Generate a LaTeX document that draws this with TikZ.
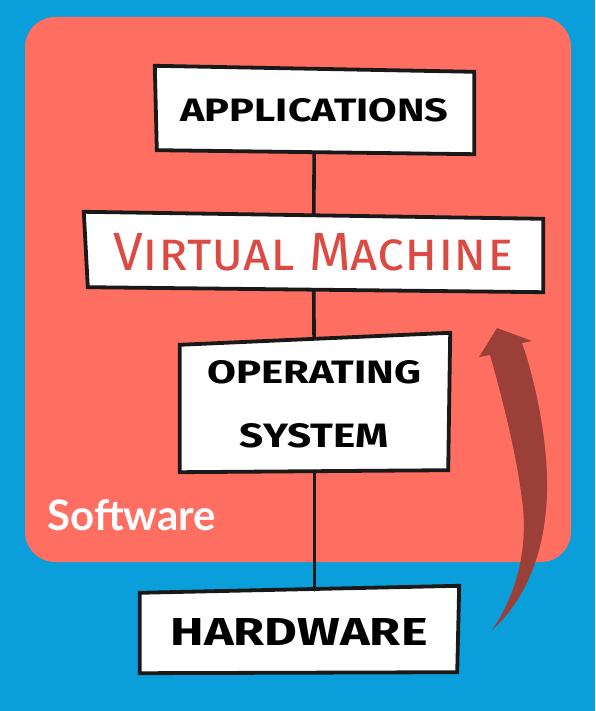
\documentclass[tikz,border=0pt]{standalone}
\usepackage{graphicx}
\usepackage{fontspec}
\usetikzlibrary{backgrounds}
\newfontfamily\handfont{Fira Sans}
\newfontfamily\handsc{Fira Sans}[Letters=SmallCaps]
\newfontfamily\labelfont{Lato}
\definecolor{skyblue}{HTML}{0A9FDA}
\definecolor{softred}{HTML}{FF6F61}
\definecolor{arrowred}{HTML}{9B4038}
\definecolor{vmred}{HTML}{DC4B43}
% hand lettering squeezed to a given width and cap height
\newcommand{\handword}[3]{\resizebox{#1}{#2}{#3}}

\begin{document}
\begin{tikzpicture}[x=1pt,y=-1pt,line cap=round,line join=round,
    layer/.style={inner sep=0pt,font=\handfont\bfseries},
    outline/.style={draw=black!90,line width=3.8pt,fill=white},
    link/.style={draw=black!90,line width=3.6pt}]
            \node[layer,minimum width=319pt,minimum height=83pt] (apps) at (314.5,110.5)
                {\handword{268pt}{23pt}{APPLICATIONS}};
            \node[layer,minimum width=459pt,minimum height=76pt] (vm) at (313.5,252)
                {\raisebox{-4pt}{\color{vmred}\handword{400pt}{37pt}{\handsc\mdseries Virtual Machine}}};
            \node[layer,minimum width=269pt,minimum height=133pt,align=center,
                font=\handfont\bfseries\fontsize{10}{64.5}\selectfont] (os) at (314.5,404.5)
                {\handword{214pt}{23pt}{OPERATING}\\\handword{149pt}{24pt}{SYSTEM}};
            \node[layer,minimum width=318pt,minimum height=83pt] (hw) at (299,631.5)
                {\handword{257pt}{27pt}{HARDWARE}};

            \begin{scope}[on background layer]
            \fill[skyblue] (0,0) rectangle (595,711);
            \fill[softred, rounded corners=30pt] (25,17) rectangle (571,562);
            % slightly crooked hand drawn boxes
            \draw[outline] ([shift={(0,-3)}]apps.north west) -- ([shift={(0,3)}]apps.north east)
                -- ([shift={(0,2)}]apps.south east) -- ([shift={(2,-2)}]apps.south west) -- cycle;
            \draw[outline] ([shift={(0,-2)}]vm.north west) -- ([shift={(0,5)}]vm.north east)
                -- ([shift={(0,2)}]vm.south east) -- ([shift={(4,-3)}]vm.south west) -- cycle;
            \draw[outline] ([shift={(0,7)}]os.north west) -- ([shift={(1,-5)}]os.north east)
                -- ([shift={(-1,-1)}]os.south east) -- ([shift={(0,1)}]os.south west) -- cycle;
            \draw[outline] ([shift={(0,3)}]hw.north west) -- ([shift={(1,-4)}]hw.north east)
                -- ([shift={(-1,-1)}]hw.south east) -- (hw.south west) -- cycle;
            \end{scope}
            \useasboundingbox (0,0) rectangle (595,711);

            \draw[link] (apps) -- (vm);
            \draw[link] (vm) -- (os);
            \draw[link] (os.south) -- (os.south |- hw.north);

            \node[anchor=west,text=white,font=\labelfont\bfseries\fontsize{42}{46}\selectfont] (soft) at (44,515) {Software};

            % curved arrow from hardware up into the software block
            \fill[arrowred] (492,630) .. controls (520,590) and (528,540) .. (522,500)
                .. controls (516,450) and (500,390) .. (490,355) -- (479,357) -- (497,328)
                -- (532,341) -- (522,343) .. controls (535,380) and (548,440) .. (547,490)
                .. controls (546,560) and (520,605) .. (492,630) -- cycle;
        \end{tikzpicture}
\end{document}
